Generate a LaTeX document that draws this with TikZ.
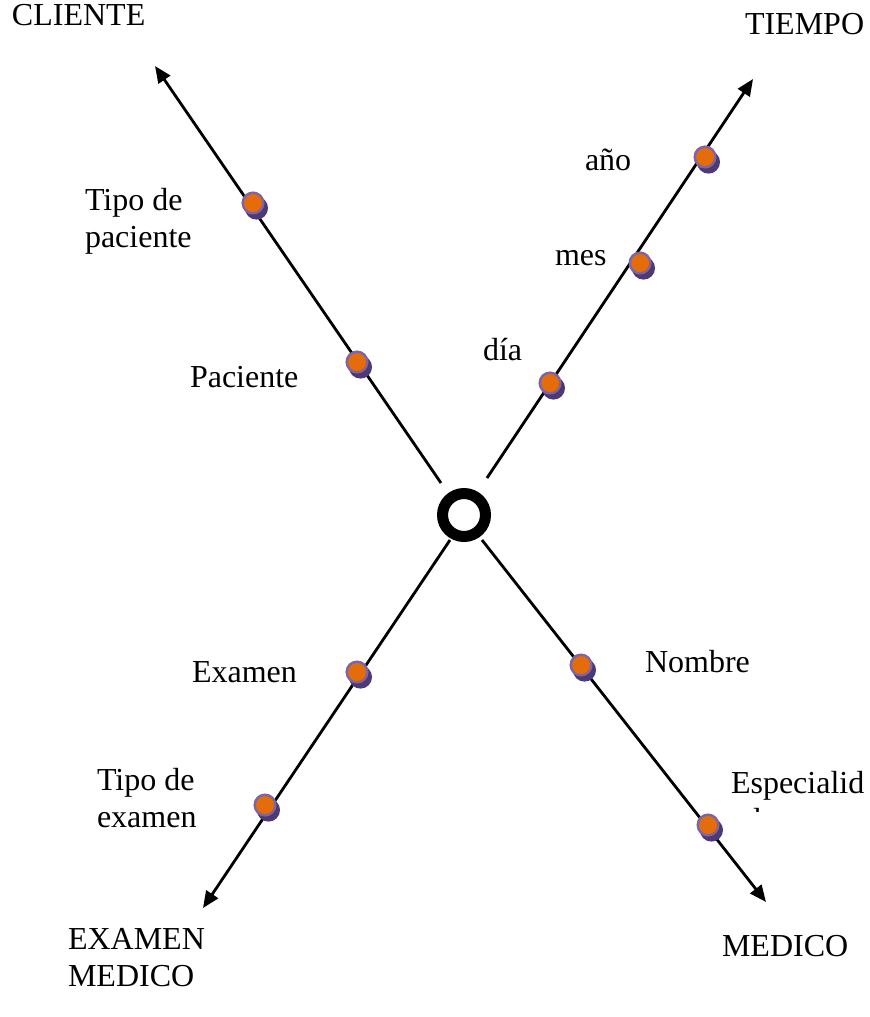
\documentclass[tikz,border=0pt]{standalone}
\usepackage{fontspec}
\setmainfont{Liberation Serif}
\usetikzlibrary{arrows.meta,shadows}
\definecolor{dotorange}{HTML}{E46C0A}
\definecolor{dotring}{HTML}{8064A2}
\definecolor{dotshade}{HTML}{4B3A73}
\begin{document}
\begin{tikzpicture}[x=0.75pt,y=-0.75pt,
  lbl/.style={inner sep=0pt,outer sep=0pt,anchor=base west,align=left,
              font=\fontsize{24}{27.75}\selectfont},
  axis/.style={line width=2.1pt,-{Triangle[length=12.5pt,width=10.5pt]}},
  dot/.style={circle,inner sep=0pt,minimum size=15.5pt,fill=dotorange,
              draw=dotring,line width=1.8pt,
              drop shadow={shadow xshift=2.6pt,shadow yshift=-3.8pt,
                           opacity=1,fill=dotshade,draw=dotshade}},
  hub/.style={circle,inner sep=0pt,minimum size=32.25pt,draw=black,
              line width=8.25pt}]
\useasboundingbox (0,0) rectangle (869,1017);

% centre of the star
\node[hub] (c) at (464,515) {};

% start and end points of the four axes
\coordinate (s1) at (441,483); \coordinate (t1) at (155,66);
\coordinate (s2) at (487,478); \coordinate (t2) at (753,79);
\coordinate (s3) at (450,540); \coordinate (t3) at (203,908);
\coordinate (s4) at (482,540); \coordinate (t4) at (766,902);

\draw[axis] (s1) -- (t1);
\draw[axis] (s2) -- (t2);
\draw[axis] (s3) -- (t3);
\draw[axis] (s4) -- (t4);

% hierarchy levels on each axis
\node[dot] (p1) at (357,362) {};
\node[dot] (p2) at (253,203) {};
\node[dot] (m1) at (550,383) {};
\node[dot] (m2) at (640,263) {};
\node[dot] (m3) at (705,157) {};
\node[dot] (e1) at (357,672) {};
\node[dot] (e2) at (265,805) {};
\node[dot] (n1) at (581,665) {};
\node[dot] (n2) at (708,825) {};

% dimension names (multi-line nodes are placed by their last baseline)
\node[lbl] (lc) at (12,26) {CLIENTE};
\node[lbl] (lt) at (745,34) {TIEMPO};
\node[lbl] (le) at (68,986) {EXAMEN\\MEDICO};
\node[lbl] (lm) at (722,956) {MEDICO};

% level names
\node[lbl] (ltp) at (85,247) {Tipo de\\paciente};
\node[lbl] (lpa) at (190,387) {Paciente};
\node[lbl] (ldi) at (483,360) {día};
\node[lbl] (lme) at (555,265) {mes};
\node[lbl] (lan) at (585,170) {año};
\node[lbl] (lex) at (192,682) {Examen};
\node[lbl] (lte) at (97,827) {Tipo de\\examen};
\node[lbl] (lno) at (645,672) {Nombre};
\begin{scope}
  \clip (700,740) rectangle (869,811);
  \node[lbl] (les) at (731,830) {Especialid\\ad};
\end{scope}
\end{tikzpicture}
\end{document}
